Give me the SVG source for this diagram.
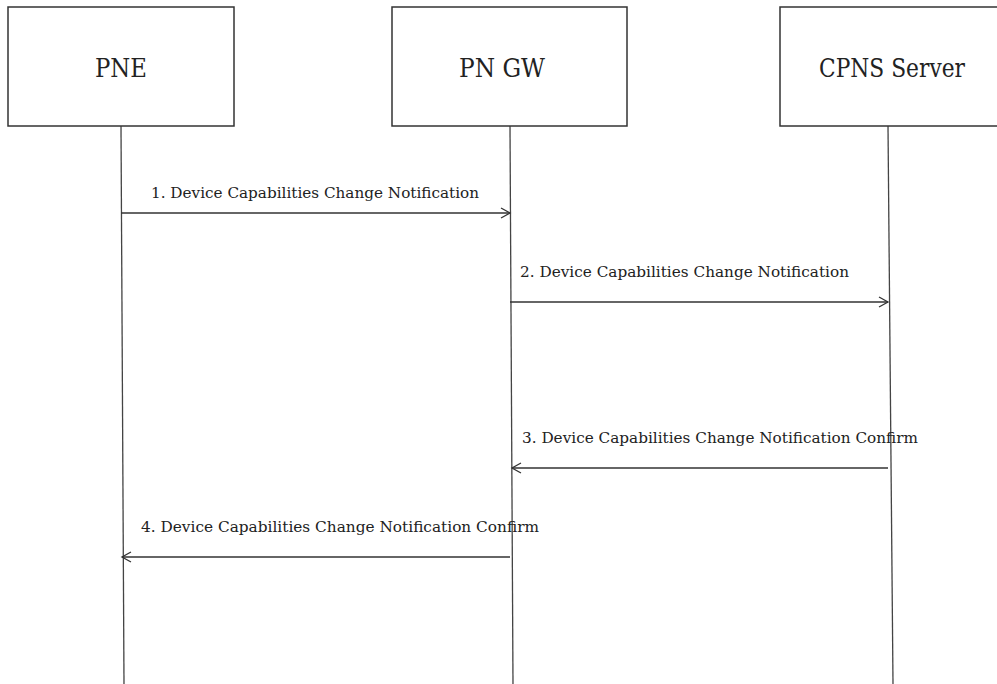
<svg xmlns="http://www.w3.org/2000/svg" width="997" height="684" viewBox="0 0 997 684">
<style>
.box{fill:#fff;stroke:#333;stroke-width:1.5}
.life{stroke:#444;stroke-width:1.3;fill:none}
.msg{stroke:#333;stroke-width:1.3;fill:none}
.head{stroke:#333;stroke-width:1.3;fill:none}
.title{font-family:'DejaVu Serif',serif;font-size:26px;fill:#222}
.lbl{font-family:'DejaVu Serif',serif;font-size:14px;fill:#222}
</style>
<rect width="997" height="684" fill="#fff"/>
<g id="lifelines">
<line class="life" x1="121" y1="126" x2="124" y2="684"/>
<line class="life" x1="510" y1="126" x2="513" y2="684"/>
<line class="life" x1="888" y1="126" x2="893" y2="684"/>
</g>
<g id="node-pne">
<rect class="box" x="8" y="7" width="226" height="119"/>
<text class="title" x="121" y="77" text-anchor="middle" textLength="52" lengthAdjust="spacingAndGlyphs">PNE</text>
</g>
<g id="node-pngw">
<rect class="box" x="392" y="7" width="235" height="119"/>
<text class="title" x="502" y="77" text-anchor="middle" textLength="86" lengthAdjust="spacingAndGlyphs">PN GW</text>
</g>
<g id="node-cpns">
<rect class="box" x="780" y="7" width="230" height="119"/>
<text class="title" x="892" y="77" text-anchor="middle" textLength="146" lengthAdjust="spacingAndGlyphs">CPNS Server</text>
</g>
<g id="connectors">
<line class="msg" x1="121" y1="213" x2="510" y2="213"/>
<polyline class="head" points="501,208 510,213 501,218"/>
<text class="lbl" x="151" y="198" textLength="328" lengthAdjust="spacingAndGlyphs">1. Device Capabilities Change Notification</text>
<line class="msg" x1="510" y1="302" x2="888" y2="302"/>
<polyline class="head" points="879,297 888,302 879,307"/>
<text class="lbl" x="520" y="277" textLength="329" lengthAdjust="spacingAndGlyphs">2. Device Capabilities Change Notification</text>
<line class="msg" x1="888" y1="468" x2="512" y2="468"/>
<polyline class="head" points="521,463 512,468 521,473"/>
<text class="lbl" x="522" y="443" textLength="396" lengthAdjust="spacingAndGlyphs">3. Device Capabilities Change Notification Confirm</text>
<line class="msg" x1="510" y1="557" x2="122" y2="557"/>
<polyline class="head" points="131,552 122,557 131,562"/>
<text class="lbl" x="141" y="532" textLength="398" lengthAdjust="spacingAndGlyphs">4. Device Capabilities Change Notification Confirm</text>
</g>
</svg>
